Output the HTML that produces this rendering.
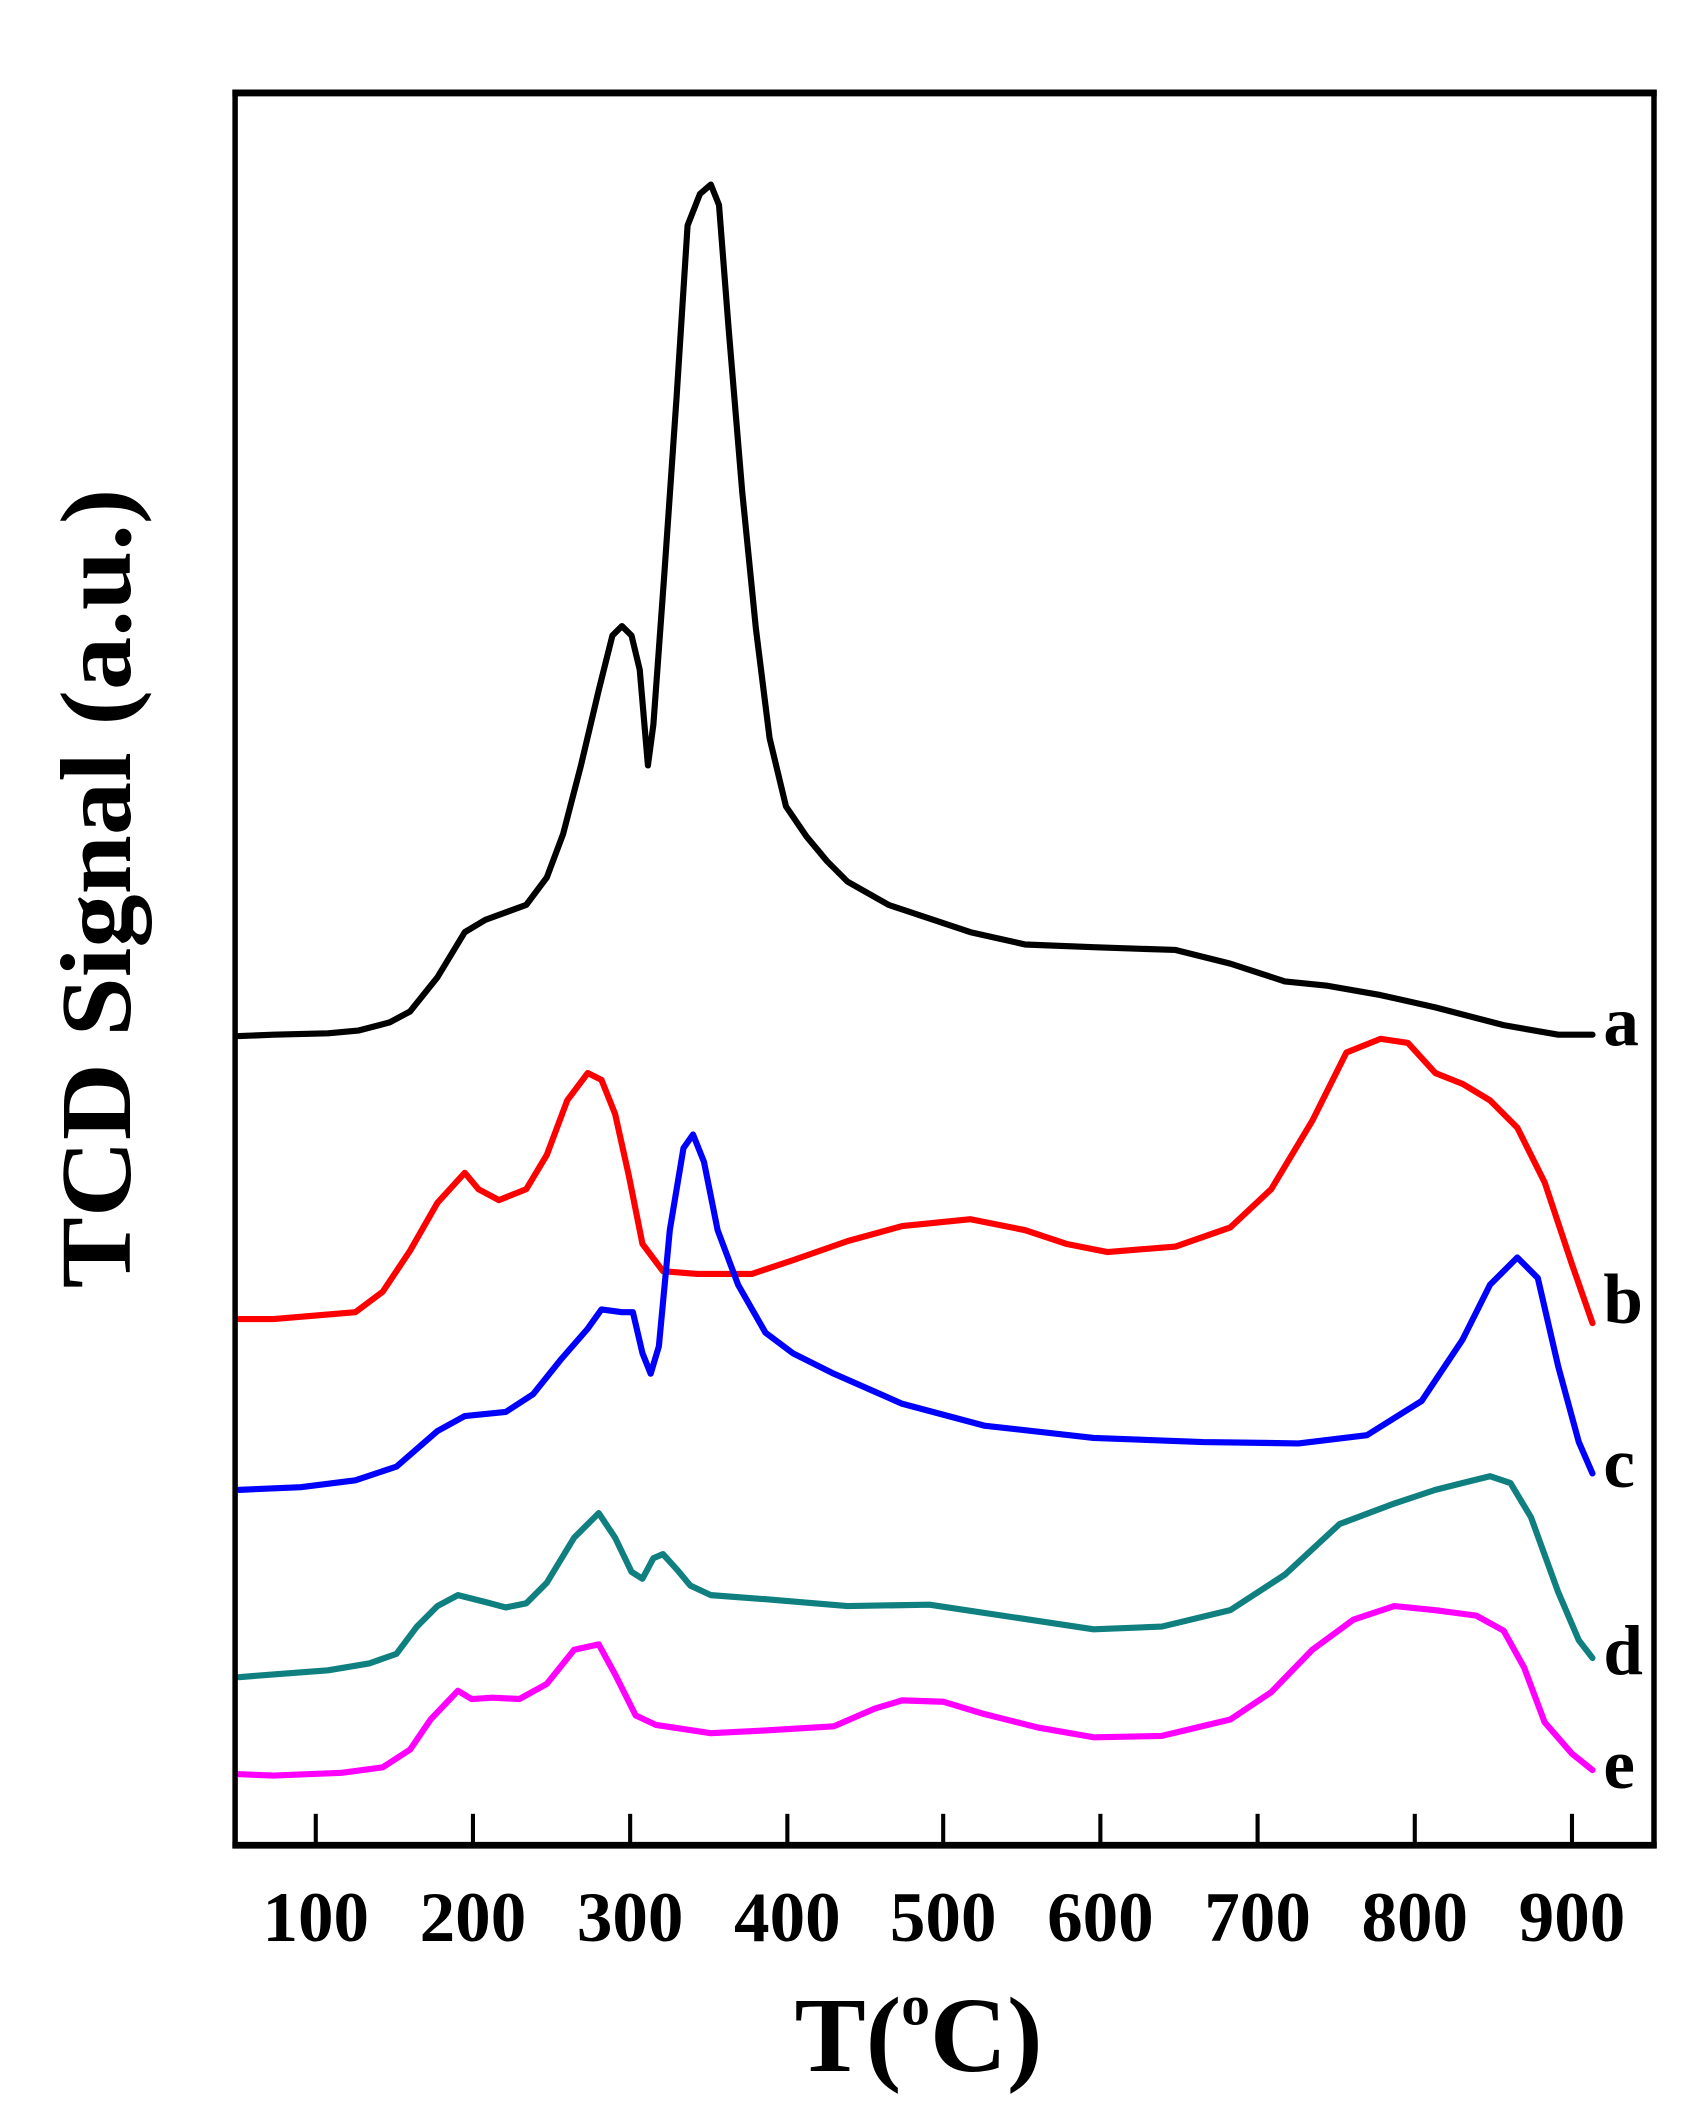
<!DOCTYPE html>
<html><head><meta charset="utf-8"><style>html,body{margin:0;padding:0;background:#fff}svg{display:block}</style></head>
<body>
<svg width="1695" height="2120" viewBox="0 0 1240 1551" preserveAspectRatio="none" xmlns="http://www.w3.org/2000/svg">
<rect x="0" y="0" width="1240" height="1551" fill="#fff"/>
<g fill="none" stroke-width="4.5" stroke-linejoin="round" stroke-linecap="round">
<polyline stroke="#000" points="175,758 200,757 240,756 262,754 285,748 300,740 320,715 340,682 355,673 385,662 400,642 412,610 425,560 438,505 448,465 455,458 462,465 468,490 474,560 478,530 486,420 495,290 503,165 512,142 520,135 526,150 533,240 543,360 553,460 563,540 575,590 590,612 605,630 620,645 650,662 710,682 750,691 800,693 860,695 900,705 940,718 970,721 1010,728 1050,737 1100,750 1140,757 1165,757"/>
<polyline stroke="#ff0000" points="175,965 200,965 260,960 280,945 300,915 320,880 340,858 350,870 365,878 385,870 400,845 415,805 430,785 440,790 450,815 460,860 470,910 485,930 510,932 550,932 580,922 620,908 660,897 710,892 750,900 780,910 810,916 860,912 900,898 930,870 960,820 985,770 1010,760 1030,763 1050,785 1070,793 1090,805 1110,825 1130,865 1150,925 1165,968"/>
<polyline stroke="#0000ff" points="175,1090 220,1088 260,1083 290,1073 320,1047 340,1036 370,1033 390,1020 410,995 430,972 440,958 455,960 463,960 470,990 476,1005 482,985 490,900 500,840 507,830 515,850 525,900 540,940 560,975 580,990 610,1005 660,1027 720,1043 800,1052 880,1055 950,1056 1000,1050 1040,1025 1070,980 1090,940 1110,920 1125,935 1140,1000 1155,1055 1165,1078"/>
<polyline stroke="#0f7f7f" points="175,1227 200,1225 240,1222 270,1217 290,1210 305,1190 320,1175 335,1167 355,1172 370,1176 385,1173 400,1158 420,1125 438,1107 450,1125 462,1150 470,1155 478,1140 485,1137 495,1148 505,1160 520,1167 560,1170 620,1175 680,1174 740,1183 800,1192 850,1190 900,1178 940,1152 980,1115 1020,1100 1050,1090 1070,1085 1090,1080 1105,1085 1120,1110 1140,1165 1155,1200 1165,1213"/>
<polyline stroke="#ff00ff" points="175,1298 200,1299 250,1297 280,1293 300,1280 315,1258 335,1237 345,1243 360,1242 380,1243 400,1232 420,1207 438,1203 450,1225 465,1255 480,1262 520,1268 560,1266 610,1263 640,1250 660,1244 690,1245 720,1254 760,1264 800,1271 850,1270 900,1258 930,1238 960,1207 990,1185 1020,1175 1050,1178 1080,1182 1100,1193 1115,1220 1130,1260 1150,1283 1165,1295"/>
</g>
<rect x="172" y="68" width="1038" height="1282" fill="none" stroke="#000" stroke-width="4"/>
<line x1="170" y1="1350" x2="1212" y2="1350" stroke="#000" stroke-width="5"/>
<line x1="170" y1="68" x2="1212" y2="68" stroke="#000" stroke-width="5"/>
<g stroke="#000" stroke-width="3">
<line x1="231" y1="1348" x2="231" y2="1327"/><line x1="346" y1="1348" x2="346" y2="1327"/><line x1="461" y1="1348" x2="461" y2="1327"/><line x1="576" y1="1348" x2="576" y2="1327"/><line x1="690" y1="1348" x2="690" y2="1327"/><line x1="805" y1="1348" x2="805" y2="1327"/><line x1="920" y1="1348" x2="920" y2="1327"/><line x1="1035" y1="1348" x2="1035" y2="1327"/><line x1="1150" y1="1348" x2="1150" y2="1327"/>
</g>
<g font-family="Liberation Serif, serif" font-weight="bold" font-size="52" text-anchor="middle" fill="#000">
<text x="231" y="1420">100</text><text x="346" y="1420">200</text><text x="461" y="1420">300</text><text x="576" y="1420">400</text><text x="690" y="1420">500</text><text x="805" y="1420">600</text><text x="920" y="1420">700</text><text x="1035" y="1420">800</text><text x="1150" y="1420">900</text>
</g>
<g font-family="Liberation Serif, serif" font-weight="bold" font-size="52" fill="#000">
<text x="1173" y="765">a</text><text x="1173" y="968">b</text><text x="1173" y="1088">c</text><text x="1173" y="1225">d</text><text x="1173" y="1308">e</text>
</g>
<text x="672" y="1515" font-family="Liberation Serif, serif" font-weight="bold" font-size="78" text-anchor="middle">T(<tspan font-size="42" dy="-34">o</tspan><tspan dy="34">C)</tspan></text>
<text transform="translate(95,650) rotate(-90)" font-family="Liberation Serif, serif" font-weight="bold" font-size="74" text-anchor="middle" textLength="585" lengthAdjust="spacingAndGlyphs">TCD Signal (a.u.)</text>
</svg>
</body></html>
